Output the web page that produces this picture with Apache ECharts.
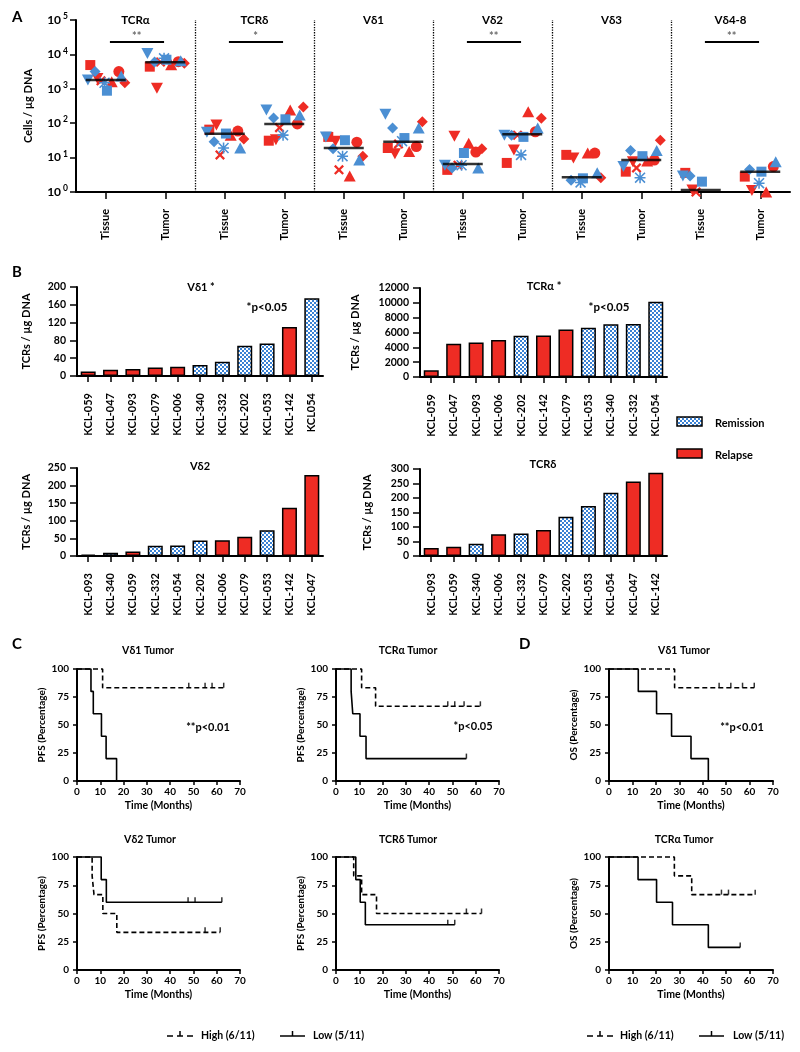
<!DOCTYPE html>
<html><head><meta charset="utf-8">
<script src="https://cdn.jsdelivr.net/npm/echarts@6/dist/echarts.min.js"></script>
<style>html,body{margin:0;padding:0;background:#fff}#c{width:800px;height:1052px}</style>
</head><body><div id="c"></div>
<script>
// ---------------- Panel A data ----------------
const groupsA = ['TCRα','TCRδ','Vδ1','Vδ2','Vδ3','Vδ4-8'];
const labelsA = ['Tissue','Tumor','Tissue','Tumor','Tissue','Tumor','Tissue','Tumor','Tissue','Tumor','Tissue','Tumor'];
// per patient values across the 12 columns (null = not visible)
const pRedSquare   = [4900, 4400, 65, 31, 40, 19, 4.4, 7, 12, 3.9, 3.6, 2.8];
const pRedCircle   = [3160, 6150, 59, 95, 28, 21, 14.5, 56, 13.5, 8.5, null, 5.5];
const pRedTriangle = [1600, 5000, 45, 240, 2.9, 15, 26, 215, 13.5, 8, null, 1.0];
const pRedDown     = [2000, 1030, 89, 33, 30, 13, 42, 16.6, 9.7, 7.6, 1.15, 1.1];
const pRedDiamond  = [1500, 5500, 35, 295, 11, 110, 18, 140, 2.6, 32, null, null];
const pRedCross    = [1700, 6000, 12, 74, 4.4, 25, 6, 45, null, 5, 1.0, null];
const pBlueSquare  = [880, 7000, 50, 130, 32, 37, 13.6, 40, 2.5, 11, 2, 3.9];
const pBlueTriangle= [2350, 6500, 19, 172, 8.5, 73, 5, 73, 3.6, 16, null, 7.6];
const pBlueDown    = [1800, 10700, 55, 240, 40, 183, 6, 45, null, 5.5, 2.9, null];
const pBlueDiamond = [3160, 6000, 29, 141, 18, 73, 5, 45, 2.2, 16, 2.9, 4.5];
const pBlueStar    = [1500, 7700, 19, 45, 11, 30, 6, 12, 1.9, 2.6, null, 1.8];
const medianA = [1800, 5900, 49, 95, 19, 29, 6.5, 48, 2.7, 8.5, 1.15, 3.9];
const sigGroups = [0, 1, 3, 5];
const sigStars = ['**', '*', '**', '**'];
const sigLevel = 23000;

// ---------------- Panel B data ----------------
const relapseIds = ['059','047','093','079','006','142'];
const b1Names = ['KCL-059','KCL-047','KCL-093','KCL-079','KCL-006','KCL-340','KCL-332','KCL-202','KCL-053','KCL-142','KCL054'];
const b1Values = [10, 14, 16, 19, 21, 25, 32, 68, 73, 110, 175];
const b2Names = ['KCL-059','KCL-047','KCL-093','KCL-006','KCL-202','KCL-142','KCL-079','KCL-053','KCL-340','KCL-332','KCL-054'];
const b2Values = [900, 4500, 4650, 5000, 5550, 5600, 6400, 6650, 7100, 7150, 10150];
const b3Names = ['KCL-093','KCL-340','KCL-059','KCL-332','KCL-054','KCL-202','KCL-006','KCL-079','KCL-053','KCL-142','KCL-047'];
const b3Values = [4, 9, 13, 29, 30, 44, 45, 55, 73, 137, 230];
const b4Names = ['KCL-093','KCL-059','KCL-340','KCL-006','KCL-332','KCL-079','KCL-202','KCL-053','KCL-054','KCL-047','KCL-142'];
const b4Values = [28, 32, 42, 75, 78, 90, 135, 172, 218, 257, 287];

// ---------------- Panel C / D data (time months, survival %) ----------------
const vd1PfsHigh = [[0,100],[11,83.3],[63,83.3]];
const vd1PfsHighCens = [48, 55, 58, 63];
const vd1PfsLow = [[0,100],[6,80],[7,60],[10.5,40],[12.5,20],[17,0]];
const vd1PfsLowCens = [];
const taPfsHigh = [[0,100],[11,83.3],[17,66.7],[62,66.7]];
const taPfsHighCens = [48, 51, 55, 62];
const taPfsLow = [[0,100],[6.5,80],[7.2,60],[10.3,40],[12.9,20],[56,20]];
const taPfsLowCens = [56];
const vd1OsHigh = [[0,100],[28,83.3],[62,83.3]];
const vd1OsHighCens = [47, 52, 57, 62];
const vd1OsLow = [[0,100],[12.5,80],[20.3,60],[26.7,40],[35,20],[42.4,0]];
const vd1OsLowCens = [];
const vd2PfsHigh = [[0,100],[6.5,83.3],[7.3,66.7],[11.1,50],[17.1,33.3],[61.5,33.3]];
const vd2PfsHighCens = [55, 61.5];
const vd2PfsLow = [[0,100],[10.4,80],[12.6,60],[62.2,60]];
const vd2PfsLowCens = [47.7, 50.7, 62.2];
const tdPfsHigh = [[0,100],[7.6,83.3],[11,66.7],[17.4,50],[62.5,50]];
const tdPfsHighCens = [56, 62.5];
const tdPfsLow = [[0,100],[8.5,80],[10.4,60],[12.6,40],[51,40]];
const tdPfsLowCens = [48, 51];
const taOsHigh = [[0,100],[27.9,83.3],[35.3,66.7],[62.4,66.7]];
const taOsHighCens = [48, 51, 62.4];
const taOsLow = [[0,100],[12.4,80],[20.3,60],[27.1,40],[42.4,20],[56,20]];
const taOsLowCens = [56];

// ---------------- styling ----------------
const FONT = "Lato, 'DejaVu Sans', sans-serif";
const RED = '#ee2c24', BLUE = '#4b8fd3';
function makeChecker(){
  const c = document.createElement('canvas'); c.width = 4; c.height = 4;
  const g = c.getContext('2d');
  g.fillStyle = '#ffffff'; g.fillRect(0,0,4,4);
  g.fillStyle = '#3a82d4'; g.fillRect(0,0,2,2); g.fillRect(2,2,2,2);
  return c;
}
const checker = {image: makeChecker(), repeat: 'repeat'};

const SYM = {
  square: 'rect', circle: 'circle', triangle: 'triangle',
  down: 'path://M0,0L10,0L5,9Z',
  diamond: 'path://M5,0L10,5L5,10L0,5Z',
  cross: 'path://M0,1.6L1.6,0L5,3.4L8.4,0L10,1.6L6.6,5L10,8.4L8.4,10L5,6.6L1.6,10L0,8.4L3.4,5Z',
  star: 'path://M4.3,0L5.7,0L5.7,10L4.3,10ZM0,4.3L10,4.3L10,5.7L0,5.7ZM1,0L10,9L9,10L0,1ZM9,0L10,1L1,10L0,9Z'
};
const SIZE = {square:10, circle:11, triangle:[12,11], down:[12,11], diamond:11, cross:10, star:11};

const patientsA = [
  {vals: pRedSquare, color: RED, shape: 'square', jit: -0.26},
  {vals: pRedCircle, color: RED, shape: 'circle', jit: 0.22},
  {vals: pRedTriangle, color: RED, shape: 'triangle', jit: 0.1},
  {vals: pRedDown, color: RED, shape: 'down', jit: -0.14},
  {vals: pRedDiamond, color: RED, shape: 'diamond', jit: 0.32},
  {vals: pRedCross, color: RED, shape: 'cross', jit: -0.08},
  {vals: pBlueSquare, color: BLUE, shape: 'square', jit: 0.02},
  {vals: pBlueTriangle, color: BLUE, shape: 'triangle', jit: 0.26},
  {vals: pBlueDown, color: BLUE, shape: 'down', jit: -0.3},
  {vals: pBlueDiamond, color: BLUE, shape: 'diamond', jit: -0.18},
  {vals: pBlueStar, color: BLUE, shape: 'star', jit: -0.02}
];

const axisLineS = {show: true, lineStyle: {color: '#000', width: 2}};
function tickS(len, extra){ return Object.assign({show: true, length: len, lineStyle: {color: '#000', width: 1.5}}, extra || {}); }
function labS(size, extra){ return Object.assign({color: '#000', fontWeight: 'bold', fontSize: size, fontFamily: FONT}, extra || {}); }

const grids = [
  {left: 76, top: 20, width: 714, height: 172},      // 0 A
  {left: 77, top: 287, width: 246, height: 89},      // 1 B1
  {left: 420, top: 288, width: 247, height: 89},     // 2 B2
  {left: 77, top: 468, width: 246, height: 88},      // 3 B3
  {left: 420, top: 469, width: 247, height: 87},     // 4 B4
  {left: 77, top: 669, width: 163, height: 112},     // 5 C1
  {left: 336, top: 669, width: 163, height: 112},    // 6 C2
  {left: 609, top: 669, width: 164, height: 112},    // 7 D1
  {left: 77, top: 857, width: 163, height: 113},     // 8 C3
  {left: 336, top: 857, width: 163, height: 113},    // 9 C4
  {left: 609, top: 857, width: 164, height: 113}     // 10 D2
];

const xAxes = [], yAxes = [], series = [];

// ---- Panel A axes ----
xAxes.push({gridIndex: 0, type: 'category', data: labelsA, position: 'bottom', axisLine: axisLineS,
  axisTick: tickS(7, {alignWithLabel: true}), axisLabel: labS(11, {rotate: 90, interval: 0, margin: 17}), splitLine: {show: false}});
xAxes.push({gridIndex: 0, type: 'value', min: 0, max: 12, show: false, position: 'bottom'});
xAxes.push({gridIndex: 0, type: 'category', data: groupsA, position: 'top', axisLine: {show: false}, axisTick: {show: false},
  axisLabel: labS(11.5, {interval: 0, margin: 0, verticalAlign: 'middle'}), splitLine: {show: false}});
yAxes.push({gridIndex: 0, type: 'log', logBase: 10, min: 1, max: 100000, axisLine: axisLineS, axisTick: tickS(6),
  minorTick: {show: false}, splitLine: {show: false},
  axisLabel: {margin: 8, formatter: v => '{b|10}{s|' + Math.round(Math.log10(v)) + '}',
    rich: {b: labS(12, {lineHeight: 16}), s: labS(8.5, {verticalAlign: 'top', padding: [0, 0, 0, 2]})}},
  name: 'Cells / µg DNA', nameLocation: 'middle', nameGap: 42, nameTextStyle: labS(11)});

patientsA.forEach(p => {
  const data = [];
  p.vals.forEach((v, c) => { if (v != null) data.push([c + 0.5 + p.jit, v]); });
  series.push({type: 'scatter', xAxisIndex: 1, yAxisIndex: 0, data, symbol: SYM[p.shape], symbolSize: SIZE[p.shape],
    itemStyle: {color: p.color, opacity: 1}, clip: false, silent: true});
});
series.push({type: 'scatter', xAxisIndex: 1, yAxisIndex: 0, z: 5, symbol: 'rect', symbolSize: [40, 2.5],
  itemStyle: {color: '#000'}, data: medianA.map((m, c) => [c + 0.5, m]), silent: true,
  markLine: {silent: true, symbol: ['none', 'none'], label: {show: false},
    lineStyle: {color: '#000', type: 'dotted', width: 1.3}, data: [2, 4, 6, 8, 10].map(x => ({xAxis: x}))}});
sigGroups.forEach((g, i) => {
  series.push({type: 'line', xAxisIndex: 1, yAxisIndex: 0, symbol: 'none', clip: false, silent: true,
    lineStyle: {color: '#000', width: 2}, data: [[g * 2 + 0.57, sigLevel], [g * 2 + 1.48, sigLevel]]});
  series.push({type: 'scatter', xAxisIndex: 1, yAxisIndex: 0, symbolSize: 0, silent: true,
    data: [[g * 2 + 1.02, sigLevel]],
    label: {show: true, position: 'top', distance: 0, formatter: sigStars[i], fontSize: 11, fontWeight: 'bold', color: '#444', fontFamily: FONT}});
});

// ---- Panel B ----
const bSpecs = [
  {names: b1Names, values: b1Values, max: 200, interval: 40, gap: 45},
  {names: b2Names, values: b2Values, max: 12000, interval: 2000, gap: 59},
  {names: b3Names, values: b3Values, max: 250, interval: 50, gap: 45},
  {names: b4Names, values: b4Values, max: 300, interval: 50, gap: 47}
];
bSpecs.forEach((s, k) => {
  const gi = 1 + k;
  xAxes.push({gridIndex: gi, type: 'category', data: s.names, axisLine: axisLineS, axisTick: tickS(6, {alignWithLabel: true}),
    axisLabel: labS(11, {rotate: 90, interval: 0, margin: 17}), splitLine: {show: false}});
  yAxes.push({gridIndex: gi, type: 'value', min: 0, max: s.max, interval: s.interval, axisLine: axisLineS, axisTick: tickS(7),
    axisLabel: labS(10.5, {margin: 11, formatter: v => String(v)}), splitLine: {show: false},
    name: 'TCRs / µg DNA', nameLocation: 'middle', nameGap: s.gap, nameTextStyle: labS(11)});
  series.push({type: 'bar', xAxisIndex: xAxes.length - 1, yAxisIndex: yAxes.length - 1, barWidth: 15, silent: true,
    data: s.values.map((v, i) => ({value: v, itemStyle: {
      color: relapseIds.includes(s.names[i].slice(-3)) ? RED : checker, borderColor: '#000', borderWidth: 1.5}}))});
});

// ---- Panels C / D ----
function survAt(curve, t){ let v = curve[0][1]; curve.forEach(([x, y]) => { if (x <= t) v = y; }); return v; }
const kmSpecs = [
  {g: 5, hi: vd1PfsHigh, hiC: vd1PfsHighCens, lo: vd1PfsLow, loC: vd1PfsLowCens, yname: 'PFS (Percentage)'},
  {g: 6, hi: taPfsHigh, hiC: taPfsHighCens, lo: taPfsLow, loC: taPfsLowCens, yname: 'PFS (Percentage)'},
  {g: 7, hi: vd1OsHigh, hiC: vd1OsHighCens, lo: vd1OsLow, loC: vd1OsLowCens, yname: 'OS (Percentage)'},
  {g: 8, hi: vd2PfsHigh, hiC: vd2PfsHighCens, lo: vd2PfsLow, loC: vd2PfsLowCens, yname: 'PFS (Percentage)'},
  {g: 9, hi: tdPfsHigh, hiC: tdPfsHighCens, lo: tdPfsLow, loC: tdPfsLowCens, yname: 'PFS (Percentage)'},
  {g: 10, hi: taOsHigh, hiC: taOsHighCens, lo: taOsLow, loC: taOsLowCens, yname: 'OS (Percentage)'}
];
kmSpecs.forEach(s => {
  xAxes.push({gridIndex: s.g, type: 'value', min: 0, max: 70, interval: 10, axisLine: axisLineS, axisTick: tickS(4),
    axisLabel: labS(10, {margin: 6}), splitLine: {show: false},
    name: 'Time (Months)', nameLocation: 'middle', nameGap: 19, nameTextStyle: labS(10.5)});
  yAxes.push({gridIndex: s.g, type: 'value', min: 0, max: 100, interval: 25, axisLine: axisLineS, axisTick: tickS(4),
    axisLabel: labS(10, {margin: 8}), splitLine: {show: false},
    name: s.yname, nameLocation: 'middle', nameGap: 30, nameTextStyle: labS(10)});
  const xi = xAxes.length - 1, yi = yAxes.length - 1;
  series.push({type: 'line', step: 'end', xAxisIndex: xi, yAxisIndex: yi, data: s.hi, symbol: 'none', clip: false, silent: true,
    lineStyle: {color: '#000', width: 1.6, type: [5, 3]}});
  series.push({type: 'line', step: 'end', xAxisIndex: xi, yAxisIndex: yi, data: s.lo, symbol: 'none', clip: false, silent: true,
    lineStyle: {color: '#000', width: 1.6}});
  const cens = s.hiC.map(t => [t, survAt(s.hi, t)]).concat(s.loC.map(t => [t, survAt(s.lo, t)]));
  series.push({type: 'scatter', xAxisIndex: xi, yAxisIndex: yi, data: cens, symbol: 'rect', symbolSize: [1.5, 5],
    symbolOffset: [0, -2.5], itemStyle: {color: '#000'}, clip: false, silent: true});
});

// ---- texts ----
function txt(x, y, text, size, align){
  return {type: 'text', x, y, silent: true, style: {text, fill: '#000', font: 'bold ' + size + 'px ' + FONT,
    align: align || 'center', verticalAlign: 'middle'}};
}
function legLine(x1, x2, y, dashed){
  return [{type: 'line', silent: true, shape: {x1, y1: y, x2, y2: y}, style: {stroke: '#000', lineWidth: 1.5, lineDash: dashed ? [6, 4] : null}},
    {type: 'line', silent: true, shape: {x1: (x1 + x2) / 2, y1: y, x2: (x1 + x2) / 2, y2: y - 5}, style: {stroke: '#000', lineWidth: 1.5}}];
}
const graphic = [
  txt(12, 17, 'A', 15, 'left'), txt(12, 272, 'B', 15, 'left'), txt(12, 644, 'C', 15, 'left'), txt(519, 644, 'D', 15, 'left'),
  txt(201, 287, 'Vδ1 *', 11), txt(544, 286, 'TCRα *', 11), txt(200, 466, 'Vδ2', 11), txt(543, 464, 'TCRδ', 11),
  txt(267, 307, '*p<0.05', 11.5), txt(609, 307, '*p<0.05', 11.5),
  {type: 'rect', silent: true, shape: {x: 677, y: 417, width: 25, height: 9}, style: {fill: checker, stroke: '#000', lineWidth: 1.5}},
  txt(715, 423, 'Remission', 11, 'left'),
  {type: 'rect', silent: true, shape: {x: 677, y: 449, width: 25, height: 9}, style: {fill: RED, stroke: '#000', lineWidth: 1.5}},
  txt(715, 455, 'Relapse', 11, 'left'),
  txt(148, 651, 'Vδ1 Tumor', 10.5), txt(408, 651, 'TCRα Tumor', 10.5), txt(684, 651, 'Vδ1 Tumor', 10.5),
  txt(150, 840, 'Vδ2 Tumor', 10.5), txt(408, 840, 'TCRδ Tumor', 10.5), txt(684, 840, 'TCRα Tumor', 10.5),
  txt(208, 727, '**p<0.01', 11), txt(473, 726, '*p<0.05', 11), txt(742, 727, '**p<0.01', 11),
  ...legLine(167, 193, 1036, true), txt(201, 1036, 'High (6/11)', 10.5, 'left'),
  ...legLine(280, 305, 1036, false), txt(313, 1036, 'Low (5/11)', 10.5, 'left'),
  ...legLine(587, 613, 1036, true), txt(620, 1036, 'High (6/11)', 10.5, 'left'),
  ...legLine(699, 724, 1036, false), txt(733, 1036, 'Low (5/11)', 10.5, 'left')
];

const chart = echarts.init(document.getElementById('c'), null, {renderer: 'canvas'});
chart.setOption({animation: false, backgroundColor: '#fff', textStyle: {fontFamily: FONT},
  grid: grids, xAxis: xAxes, yAxis: yAxes, series, graphic});
</script></body></html>
